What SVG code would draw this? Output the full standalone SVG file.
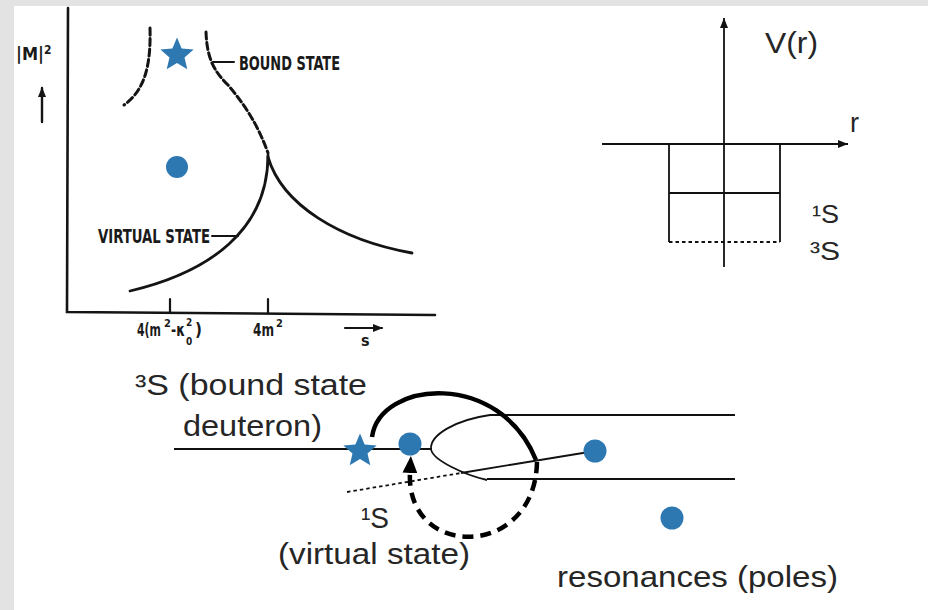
<svg xmlns="http://www.w3.org/2000/svg" width="928" height="610" viewBox="0 0 928 610">
<style>
.k{font-family:"Liberation Sans",Arial,sans-serif;fill:#262626}
.scan{font-family:"Liberation Sans Narrow","DejaVu Sans Condensed","Liberation Sans",sans-serif;font-weight:bold;fill:#1a1a1a}
.sc{fill:none;stroke:#141414;stroke-linecap:round}
.thin{fill:none;stroke:#111;stroke-width:1.8}
.blue{fill:#2e78b2}
</style>
<defs>
<polygon id="star" points="0,-17.5 4.64,-6.39 16.64,-5.41 7.51,2.44 10.29,14.16 0,7.9 -10.29,14.16 -7.51,2.44 -16.64,-5.41 -4.64,-6.39"/>
<marker id="ah" viewBox="0 0 10 8" refX="10" refY="4" markerWidth="10" markerHeight="8" markerUnits="userSpaceOnUse" orient="auto"><path d="M0,0 L10,4 L0,8 z" fill="#111"/></marker>
<marker id="ahs" viewBox="0 0 10 8" refX="9" refY="4" markerWidth="10" markerHeight="8" markerUnits="userSpaceOnUse" orient="auto"><path d="M0,0 L10,4 L0,8 z" fill="#141414"/></marker>
<marker id="ahb" viewBox="0 0 17 15" refX="1" refY="7.5" markerWidth="17" markerHeight="15" markerUnits="userSpaceOnUse" orient="auto"><path d="M0,0 L17,7.5 L0,15 z" fill="#000"/></marker>
</defs>
<rect x="0" y="0" width="928" height="610" fill="#e3e3e3"/>
<rect x="14" y="6" width="914" height="604" fill="#ffffff"/>

<g id="left-plot">
  <g id="axes-left">
    <path class="sc" stroke-width="2.6" d="M68,8 L67,312 L435,315"/>
    <path class="sc" stroke-width="2.2" d="M170,299 L170,312 M268,299 L268,313"/>
    <path class="sc" stroke-width="2.4" d="M42,122 L42,88" marker-end="url(#ahs)"/>
    <path class="sc" stroke-width="2.2" d="M345,328 L382,328" marker-end="url(#ahs)"/>
  </g>
  <g id="curves-left">
    <path class="sc" stroke-width="3" stroke-dasharray="7 3.5" d="M150,28 C151,65 145,90 124,105"/>
    <path class="sc" stroke-width="3" stroke-dasharray="7 3.5" d="M206,32 C207,60 215,72 228,85 C245,105 258,125 268,153"/>
    <path class="sc" stroke-width="2.8" d="M268,155 C268,230 210,272 130,291"/>
    <path class="sc" stroke-width="2.8" d="M268,157 C282,205 340,240 412,253"/>
    <path class="sc" stroke-width="2" d="M213,62 L234,62 M212,236 L238,236"/>
  </g>
  <g id="labels-left">
    <text class="scan" x="16" y="60" font-size="18">|M|<tspan font-size="12" dy="-6">2</tspan></text>
    <text class="scan" x="239" y="70" font-size="19" textLength="101" lengthAdjust="spacingAndGlyphs">BOUND STATE</text>
    <text class="scan" x="98" y="243" font-size="19" textLength="112" lengthAdjust="spacingAndGlyphs">VIRTUAL STATE</text>
    <text class="scan" font-size="17"><tspan x="137" y="336" textLength="24" lengthAdjust="spacingAndGlyphs">4(m</tspan><tspan x="164" y="327" font-size="11">2</tspan><tspan x="171" y="336" textLength="14" lengthAdjust="spacingAndGlyphs">-κ</tspan><tspan x="186" y="326" font-size="10">2</tspan><tspan x="186" y="345" font-size="10">0</tspan><tspan x="195" y="336">)</tspan></text>
    <text class="scan" font-size="17"><tspan x="253" y="336" textLength="21" lengthAdjust="spacingAndGlyphs">4m</tspan><tspan x="276" y="327" font-size="11">2</tspan></text>
    <text class="scan" x="361" y="346" font-size="16">s</text>
  </g>
  <g id="star-bound-top"><use href="#star" x="177" y="55" class="blue"/></g>
  <g id="dot-virtual-top"><circle cx="177" cy="167" r="11" class="blue"/></g>
</g>

<g id="right-plot">
  <g id="axes-right">
    <path class="thin" d="M602,144 L848,144" marker-end="url(#ah)"/>
    <path class="thin" d="M724,267 L724,18" marker-end="url(#ah)"/>
  </g>
  <g id="well">
    <path class="thin" d="M669,144 L669,242 M780,144 L780,242 M669,193 L780,193"/>
    <path class="thin" stroke-dasharray="3.5 3" d="M669,242 L780,242"/>
  </g>
  <text class="k" x="765" y="53" font-size="30" textLength="53" lengthAdjust="spacingAndGlyphs">V(r)</text>
  <text class="k" x="850" y="132" font-size="27">r</text>
  <text class="k" x="812" y="223" font-size="26" textLength="27" lengthAdjust="spacingAndGlyphs">¹S</text>
  <text class="k" x="810" y="260" font-size="26" textLength="30" lengthAdjust="spacingAndGlyphs">³S</text>
</g>

<g id="connectors">
  <path class="thin" stroke-width="2" d="M174,449 L432,449"/>
  <path class="thin" stroke-width="2" d="M490,415 L735,415 M487,479 L735,479"/>
  <path class="thin" stroke-width="1.8" d="M490,415 C455,420 430,435 431,449 C432,460 465,475 487,480"/>
  <path class="thin" stroke-width="1.8" stroke-dasharray="3.5 3" d="M347,492 L461,473"/>
  <path class="thin" stroke-width="1.8" d="M461,473 L595,451"/>
  <path fill="none" stroke="#000" stroke-width="4.5" d="M372,437 C380,380 500,370 536,460"/>
  <path fill="none" stroke="#000" stroke-width="4.5" stroke-dasharray="11 7" d="M537,462 C535,560 405,560 410,472" marker-end="url(#ahb)"/>
</g>

<g id="bottom-nodes">
  <g id="star-bound"><use href="#star" x="360" y="451" class="blue"/></g>
  <g id="dot-virtual"><circle cx="410" cy="444" r="11.5" class="blue"/></g>
  <g id="dot-resonance-1"><circle cx="595" cy="451" r="11.5" class="blue"/></g>
  <g id="dot-resonance-2"><circle cx="672" cy="518" r="11.5" class="blue"/></g>
</g>

<g id="bottom-labels">
  <text class="k" x="135" y="395" font-size="29" textLength="232" lengthAdjust="spacingAndGlyphs">³S (bound state</text>
  <text class="k" x="183" y="436" font-size="29" textLength="139" lengthAdjust="spacingAndGlyphs">deuteron)</text>
  <text class="k" x="361" y="528" font-size="29" textLength="28" lengthAdjust="spacingAndGlyphs">¹S</text>
  <text class="k" x="278" y="564" font-size="29" textLength="192" lengthAdjust="spacingAndGlyphs">(virtual state)</text>
  <text class="k" x="557" y="587" font-size="29" textLength="281" lengthAdjust="spacingAndGlyphs">resonances (poles)</text>
</g>
</svg>
